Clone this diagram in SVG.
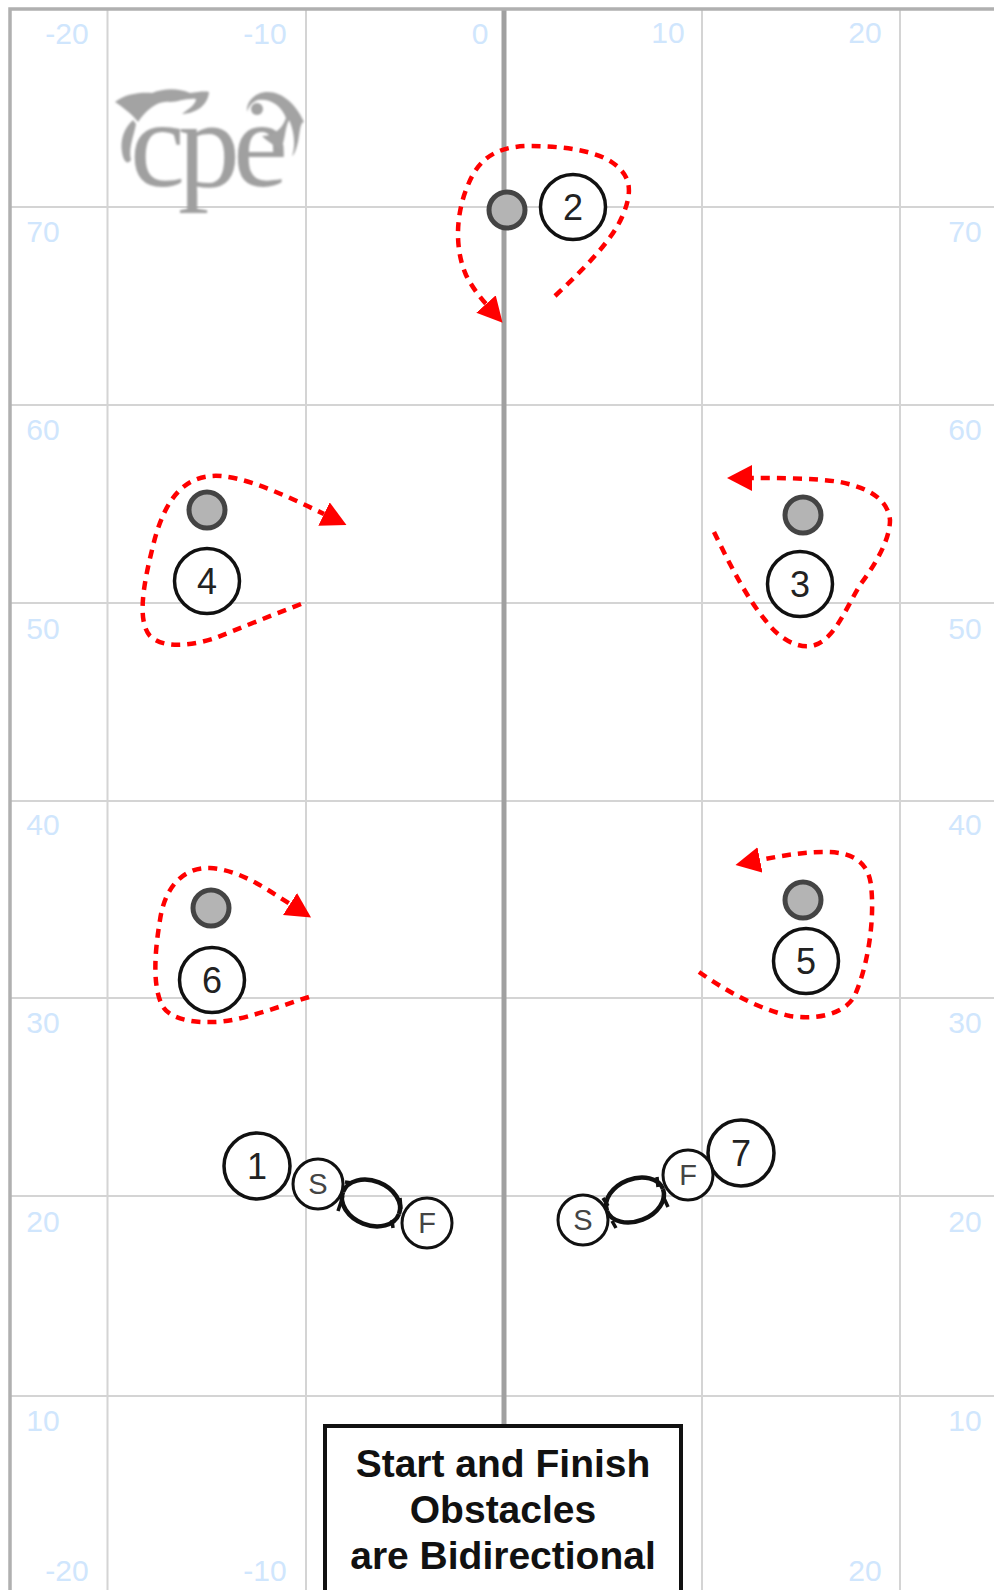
<svg xmlns="http://www.w3.org/2000/svg" width="994" height="1590" viewBox="0 0 994 1590">
<style>
.g{stroke:#d4d4d4;stroke-width:2;fill:none}
.lb{font:30px "Liberation Sans",Arial,sans-serif;fill:#d0e6fd;text-anchor:middle}
.n{fill:#fff;stroke:#111;stroke-width:3.500}
.s{fill:#fff;stroke:#111;stroke-width:3}
.o{fill:#b4b4b4;stroke:#444;stroke-width:5}
.t{font:36px "Liberation Sans",Arial,sans-serif;fill:#222;text-anchor:middle}
.ts{font:29px "Liberation Sans",Arial,sans-serif;fill:#444;text-anchor:middle}
.d{fill:none;stroke:#f00;stroke-width:4.500;stroke-dasharray:9 7;marker-end:url(#ra)}
.e{fill:none;stroke:#111;stroke-width:4.500}
.k{fill:none;stroke:#111;stroke-width:3.500}
.b{font:bold 39px "Liberation Sans",Arial,sans-serif;fill:#111;text-anchor:middle}
</style>
<defs>
<marker id="ra" markerUnits="userSpaceOnUse" markerWidth="30" markerHeight="30" refX="0" refY="13" orient="auto"><path d="M0 0L25 13L0 26z" fill="#f00"/></marker>
<filter id="soft" x="-5%" y="-5%" width="110%" height="110%"><feGaussianBlur stdDeviation="1"/></filter>
</defs>
<rect width="994" height="1590" fill="#fff"/>
<g id="grid">
<path class="g" d="M107.500 9V1590M306 9V1590M702 9V1590M900 9V1590M10 207H994M10 405H994M10 603H994M10 801H994M10 998H994M10 1196H994M10 1396H994"/>
<path d="M504 9V1424" stroke="#a0a0a0" stroke-width="5" fill="none"/>
<path d="M10 1590V9H994" stroke="#b0b0b0" stroke-width="3.500" fill="none"/>
<text class="lb" x="67" y="44">-20</text><text class="lb" x="265" y="44">-10</text><text class="lb" x="480" y="44">0</text><text class="lb" x="668" y="43">10</text><text class="lb" x="865" y="43">20</text>
<text class="lb" x="43" y="242">70</text><text class="lb" x="43" y="440">60</text><text class="lb" x="43" y="639">50</text><text class="lb" x="43" y="835">40</text><text class="lb" x="43" y="1033">30</text><text class="lb" x="43" y="1232">20</text><text class="lb" x="43" y="1431">10</text>
<text class="lb" x="965" y="242">70</text><text class="lb" x="965" y="440">60</text><text class="lb" x="965" y="639">50</text><text class="lb" x="965" y="835">40</text><text class="lb" x="965" y="1033">30</text><text class="lb" x="965" y="1232">20</text><text class="lb" x="965" y="1431">10</text>
<text class="lb" x="67" y="1581">-20</text><text class="lb" x="265" y="1581">-10</text><text class="lb" x="865" y="1581">20</text>
</g>
<g id="logo" filter="url(#soft)" fill="#a3a3a3">
<text x="130" y="186" font-family="'Liberation Serif',serif" font-size="124" letter-spacing="-7" fill="#a0a0a0">cpe</text>
<path d="M115 102C125 94 140 92 152 93C165 88 178 88 190 93C198 92 205 91 209 92C208 104 198 113 182 114C190 108 196 104 196 99C186 98 178 102 170 102C158 100 146 110 138 122C134 116 124 108 115 102z"/>
<path d="M133 120C124 128 120 140 122 152C123 160 127 166 131 160C128 148 134 136 136 124z"/>
<path d="M247 112C246 100 256 92 268 92C282 92 296 104 304 122C300 122 300 132 298 142C296 150 294 155 292 156C296 146 294 130 289 120C284 130 286 140 280 150C276 146 268 142 262 136C272 136 282 130 286 118C282 106 270 98 258 100C252 102 249 106 247 112z"/>
<circle cx="257" cy="109" r="6"/>
</g>
<g id="connectors">
<path class="d" d="M555 296C585 268 612 240 622 217C634 190 630 175 613 163C595 150 560 146 530 146C495 146 478 160 468 185C455 215 455 250 466 275C471 285 478 295 486 304"/>
<path class="d" d="M714 532C730 565 748 600 766 621C780 640 800 650 815 645C835 638 845 610 860 585C875 565 890 540 890 520C888 500 870 488 840 482C815 478 780 478 752 478"/>
<path class="d" d="M301 604C265 618 240 628 218 637C195 645 165 650 150 636C138 622 142 590 152 550C160 515 175 478 212 476C240 474 285 495 324 514"/>
<path class="d" d="M699 972C725 990 755 1008 790 1016C815 1020 845 1015 855 995C868 965 875 920 871 885C868 860 850 852 825 852C805 852 785 855 760 860"/>
<path class="d" d="M309 997C280 1006 240 1022 213 1022C190 1023 168 1018 162 1005C152 985 155 950 160 920C165 885 185 867 210 868C240 870 265 888 290 904"/>
<path class="e" d="M399 1214A30 22 22 0 0 343 1192"/>
<path class="e" d="M343 1192A30 22 22 0 0 399 1214"/>
<path class="e" d="M663 1189A30 21 -22 0 0 607 1211"/>
<path class="e" d="M607 1211A30 21 -22 0 0 663 1189"/>
</g>
<g id="node-2"><circle class="o" cx="507" cy="210" r="18"/><circle class="n" cx="573" cy="207" r="32.500"/><text class="t" x="573" y="220">2</text></g>
<g id="node-3"><circle class="o" cx="803" cy="515" r="18"/><circle class="n" cx="800" cy="584" r="32.500"/><text class="t" x="800" y="597">3</text></g>
<g id="node-4"><circle class="o" cx="207" cy="510" r="18"/><circle class="n" cx="207" cy="581" r="32.500"/><text class="t" x="207" y="594">4</text></g>
<g id="node-5"><circle class="o" cx="803" cy="900" r="18"/><circle class="n" cx="806" cy="961" r="32.500"/><text class="t" x="806" y="974">5</text></g>
<g id="node-6"><circle class="o" cx="211" cy="908" r="18"/><circle class="n" cx="212" cy="980" r="32.500"/><text class="t" x="212" y="993">6</text></g>
<g id="node-1"><circle class="n" cx="257" cy="1166" r="33"/><text class="t" x="257" y="1179">1</text></g>
<g id="node-s1"><circle class="s" cx="318" cy="1184" r="25"/><text class="ts" x="318" y="1194">S</text></g>
<g id="node-f1"><circle class="s" cx="427" cy="1223" r="25"/><text class="ts" x="427" y="1233">F</text></g>
<g id="node-7"><circle class="n" cx="741" cy="1153" r="33"/><text class="t" x="741" y="1166">7</text></g>
<g id="node-f7"><circle class="s" cx="688" cy="1175" r="25"/><text class="ts" x="688" y="1185">F</text></g>
<g id="node-s7"><circle class="s" cx="583" cy="1220" r="25"/><text class="ts" x="583" y="1230">S</text></g>
<g id="arrow-ticks"><path class="k" d="M343 1196L338 1211M345 1182L352 1183M392 1220L393 1228M400 1198L401 1209M603 1198L608 1206M612 1221L616 1228M657 1177L658 1187M663 1196L668 1207"/></g>
<g id="note"><rect x="325" y="1426" width="356" height="170" fill="#fff" stroke="#111" stroke-width="4"/>
<text class="b" x="503" y="1477">Start and Finish</text><text class="b" x="503" y="1523">Obstacles</text><text class="b" x="503" y="1569">are Bidirectional</text></g>
</svg>
